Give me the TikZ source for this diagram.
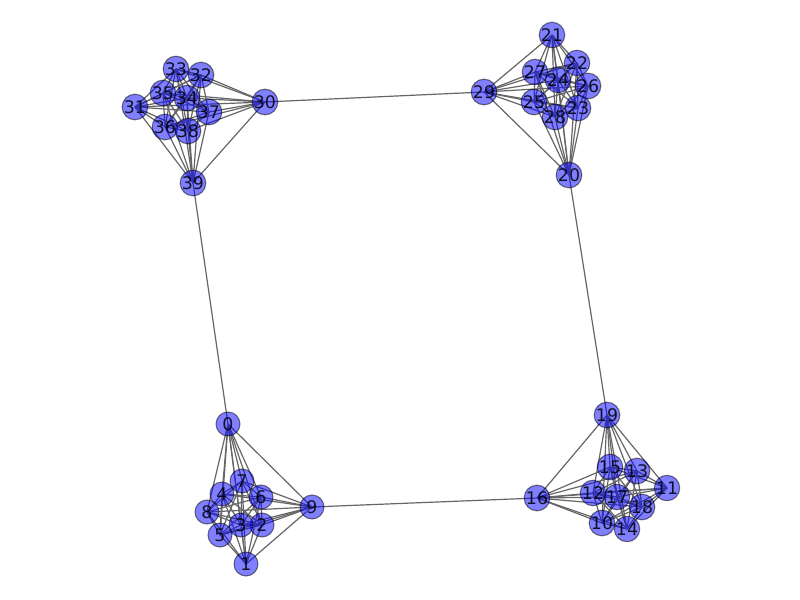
\documentclass[tikz,border=0pt]{standalone}
\usepackage{fontspec}
\setmainfont{DejaVu Sans}
\pgfdeclarelayer{bg}
\pgfdeclarelayer{links}
\pgfsetlayers{bg,links,main}

\begin{document}
\begin{tikzpicture}[x=0.75pt,y=-0.75pt,
	vertex/.style={circle, draw=black, fill=blue, opacity=0.5, text opacity=0.85,
		line width=0.8pt, minimum size=18pt, inner sep=0pt,
		font=\fontsize{13}{13}\selectfont},
	link/.style={draw=black!60, line width=0.9pt}]
	\begin{pgfonlayer}{bg}
		\fill[white] (0,0) rectangle (800,600);
	\end{pgfonlayer}
	\useasboundingbox (0,0) rectangle (800,600);
	% vertices
	\foreach \n/\x/\y in {0/228/424, 1/246/564, 2/262/525, 3/241/525, 4/222/494,
		5/220/535, 6/261/497, 7/242/481, 8/207/512, 9/312/507,
		10/602/523, 11/667/488, 12/593/493, 13/637/471, 14/627/529,
		15/610/467, 16/537/498, 17/617/497, 18/642/507, 19/607/415,
		20/569/175, 21/552/35, 22/577/63, 23/578/108, 24/558/80,
		25/534/102, 26/588/86, 27/535/72, 28/555/117, 29/484/92,
		30/265/102, 31/135/107, 32/201/75, 33/176/69, 34/187/98,
		35/163/93, 36/165/127, 37/209/112, 38/188/131, 39/193/183}
	{
		\node[vertex] (n\n) at (\x,\y) {\n};
	}
	% cliques
	\begin{pgfonlayer}{links}
		\foreach \c in {0,10,20,30}
		{
			\foreach \i in {0,...,8}
			{
				\pgfmathtruncatemacro\k{\i+1}
				\foreach \j in {\k,...,9}
				{
					\pgfmathtruncatemacro\a{\c+\i}
					\pgfmathtruncatemacro\b{\c+\j}
					\draw[link] (n\a.center) -- (n\b.center);
				}
			}
		}
		% ring
		\foreach \a/\b in {0/39, 9/16, 19/20, 29/30}
		{
			\draw[link] (n\a.center) -- (n\b.center);
		}
	\end{pgfonlayer}
\end{tikzpicture}
\end{document}
